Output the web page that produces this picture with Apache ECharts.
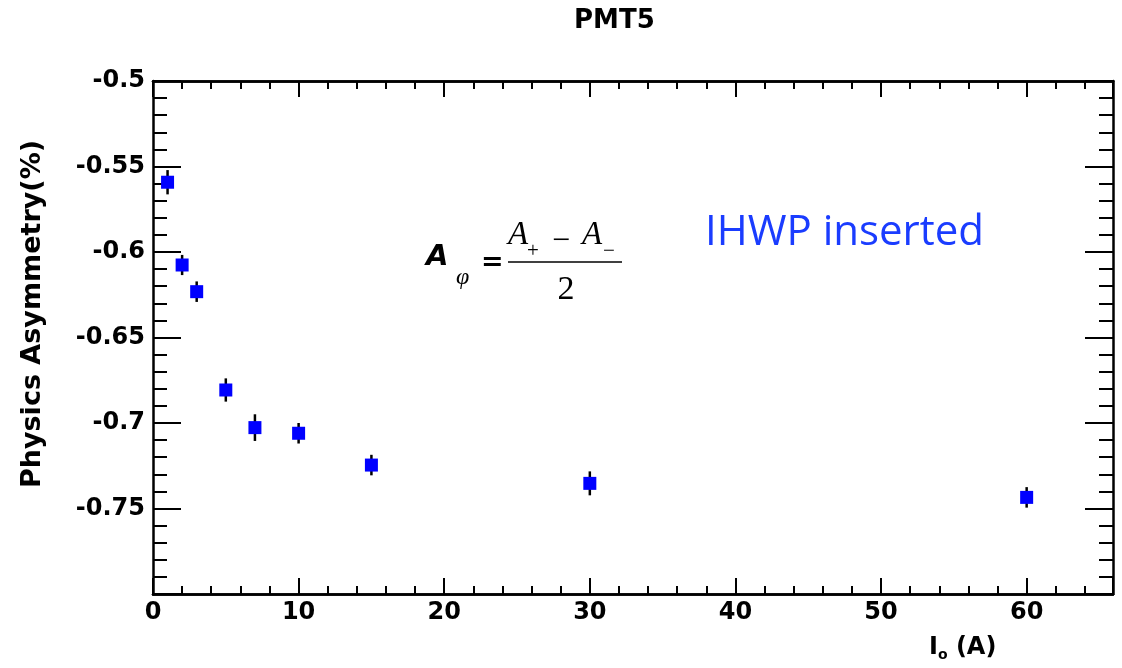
<!DOCTYPE html>
<html><head><meta charset="utf-8">
<script src="https://cdn.jsdelivr.net/npm/echarts@6/dist/echarts.min.js"></script>
<style>html,body{margin:0;padding:0;background:#fff}#c{width:1122px;height:668px}</style>
</head><body><div id="c"></div>
<script>
const currents = [1, 2, 3, 5, 7, 10, 15, 30, 60];
const asymmetry = [-0.5592, -0.6076, -0.6232, -0.6807, -0.7027, -0.7060, -0.7246, -0.7353, -0.7435];
const errors = [0.0071, 0.0059, 0.0060, 0.0068, 0.0078, 0.0060, 0.0060, 0.0070, 0.0060];
const xTickLabels = [0, 10, 20, 30, 40, 50, 60];
const yTickLabels = [-0.5, -0.55, -0.6, -0.65, -0.7, -0.75];
const X_MIN = 0, X_MAX = 65.93, Y_MIN = -0.8, Y_MAX = -0.5;

const FONT = 'DejaVu Sans';
const labelOf = (list) => (v) => {
  for (const t of list) if (Math.abs(v - t) < 1e-6) return String(t);
  return '';
};

function xAxisDef(pos, interval, len, labels) {
  return {
    type: 'value', position: pos, min: X_MIN, max: X_MAX, interval: interval,
    axisLine: { show: true, onZero: false, lineStyle: { color: '#000', width: 2.5 } },
    axisTick: { show: true, inside: true, length: len, lineStyle: { color: '#000', width: 2 } },
    axisLabel: labels ? { show: true, formatter: labelOf(xTickLabels), fontFamily: FONT, fontWeight: 'bold', fontSize: 24, color: '#000', margin: 7 } : { show: false },
    splitLine: { show: false }
  };
}
function yAxisDef(pos, labels) {
  return {
    type: 'value', position: pos, min: Y_MIN, max: Y_MAX, interval: 0.05,
    axisLine: { show: true, onZero: false, lineStyle: { color: '#000', width: 2.5 } },
    axisTick: { show: true, inside: true, length: 28, lineStyle: { color: '#000', width: 2 } },
    minorTick: { show: true, splitNumber: 5, length: 14, lineStyle: { color: '#000', width: 2 } },
    axisLabel: labels ? { show: true, formatter: labelOf(yTickLabels), fontFamily: FONT, fontWeight: 'bold', fontSize: 24, color: '#000', margin: 8 } : { show: false },
    splitLine: { show: false }
  };
}

const points = currents.map((c, i) => [c, asymmetry[i], errors[i]]);

const chart = echarts.init(document.getElementById('c'), null, { renderer: 'canvas' });
chart.setOption({
  animation: false,
  backgroundColor: '#fff',
  grid: { left: 153, right: 9, top: 81, bottom: 74, containLabel: false },
  xAxis: [
    xAxisDef('bottom', 10, 16, true),
    xAxisDef('bottom', 2, 8, false),
    xAxisDef('top', 10, 16, false),
    xAxisDef('top', 2, 8, false)
  ],
  yAxis: [yAxisDef('left', true), yAxisDef('right', false)],
  series: [
    {
      type: 'custom', xAxisIndex: 0, yAxisIndex: 0, z: 3,
      data: points,
      renderItem: function (params, api) {
        const x = api.value(0), y = api.value(1), e = api.value(2);
        const p1 = api.coord([x, y + e]);
        const p2 = api.coord([x, y - e]);
        return { type: 'line', shape: { x1: p1[0], y1: p1[1], x2: p2[0], y2: p2[1] }, style: { stroke: '#000', lineWidth: 2.5 } };
      }
    },
    {
      type: 'scatter', xAxisIndex: 0, yAxisIndex: 0, z: 4,
      symbol: 'rect', symbolSize: 13,
      itemStyle: { color: '#0000ff', opacity: 1 },
      data: points.map(p => [p[0], p[1]])
    }
  ],
  graphic: [
    { type: 'text', left: 574, top: 8, style: { text: 'PMT5', fontFamily: FONT, fontWeight: 'bold', fontSize: 26, fill: '#000' } },
    { type: 'text', x: 33, y: 314, rotation: Math.PI / 2,
      style: { text: 'Physics Asymmetry(%)', fontFamily: FONT, fontWeight: 'bold', fontSize: 27, fill: '#000', align: 'center', verticalAlign: 'middle' } },
    { type: 'text', x: 929, y: 648,
      style: { text: '{a|I}{b|o}{a| (A)}', verticalAlign: 'middle',
        rich: { a: { fontFamily: FONT, fontWeight: 'bold', fontSize: 24, fill: '#000', color: '#000' },
                b: { fontFamily: FONT, fontWeight: 'bold', fontSize: 14, fill: '#000', color: '#000', padding: [14, 0, 0, 0] } } } },
    { type: 'text', x: 705, y: 233,
      style: { text: 'IHWP inserted', fontFamily: 'Open Sans', fontSize: 42, fill: '#1a3cff', verticalAlign: 'middle' } },
    { type: 'text', x: 426, y: 272,
      style: { text: 'A', fontFamily: FONT, fontWeight: 'bold', fontStyle: 'italic', fontSize: 29, fill: '#000', verticalAlign: 'bottom' } },
    { type: 'text', x: 456, y: 290,
      style: { text: 'φ', fontFamily: 'Liberation Serif', fontStyle: 'italic', fontSize: 24, fill: '#000', verticalAlign: 'bottom' } },
    { type: 'text', x: 481, y: 263,
      style: { text: '=', fontFamily: FONT, fontWeight: 'bold', fontSize: 27, fill: '#000', verticalAlign: 'middle' } },
    { type: 'text', x: 508, y: 252,
      style: { text: 'A', fontFamily: 'Liberation Serif', fontStyle: 'italic', fontSize: 33, fill: '#000', verticalAlign: 'bottom' } },
    { type: 'text', x: 527, y: 262,
      style: { text: '+', fontFamily: 'Liberation Serif', fontSize: 21, fill: '#000', verticalAlign: 'bottom' } },
    { type: 'text', x: 552, y: 242,
      style: { text: '−', fontFamily: 'Liberation Serif', fontSize: 32, fill: '#000', verticalAlign: 'middle' } },
    { type: 'text', x: 582, y: 252,
      style: { text: 'A', fontFamily: 'Liberation Serif', fontStyle: 'italic', fontSize: 33, fill: '#000', verticalAlign: 'bottom' } },
    { type: 'text', x: 603, y: 262,
      style: { text: '−', fontFamily: 'Liberation Serif', fontSize: 21, fill: '#000', verticalAlign: 'bottom' } },
    { type: 'line', shape: { x1: 508, y1: 262, x2: 622, y2: 262 }, style: { stroke: '#000', lineWidth: 1.6 } },
    { type: 'text', x: 566, y: 307,
      style: { text: '2', fontFamily: 'Liberation Serif', fontSize: 34, fill: '#000', align: 'center', verticalAlign: 'bottom' } }
  ]
});
</script>
</body></html>
